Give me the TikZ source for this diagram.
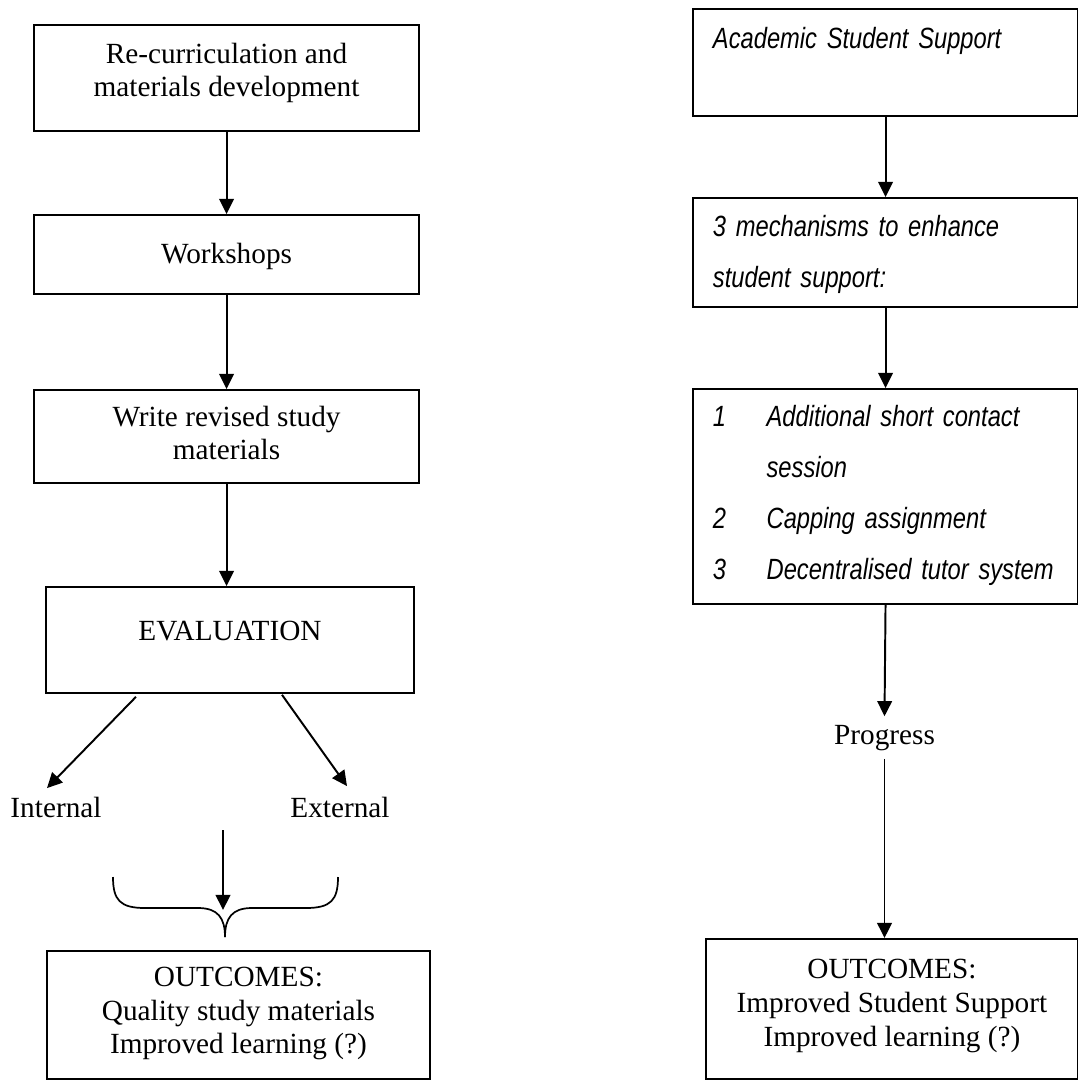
\documentclass[tikz,border=0pt]{standalone}
\usepackage{fontspec}
\setmainfont{Liberation Serif}
\newfontfamily\supportfont{Liberation Sans}[FakeStretch=0.81,WordSpace=0.6]
\usepackage{tikz}
\usetikzlibrary{arrows.meta,positioning,calc}
\newcommand\serifbig{\fontsize{12}{13.8}\selectfont}
\newcommand\sansit{\supportfont\itshape\fontsize{12}{21}\selectfont}
\newcommand\itemno[1]{\makebox[22pt][l]{#1}}

\begin{document}
\begin{tikzpicture}[
  x=0.41pt, y=-0.41pt,
  lbox/.style={
    rectangle, draw=black, line width=0.8pt,
    inner xsep=0pt, inner ysep=0pt, anchor=north west,
    align=center, font=\serifbig
  },
  rbox/.style={
    rectangle, draw=black, line width=0.8pt,
    inner xsep=8.2pt, inner ysep=0pt, anchor=north west,
    text width=141.5pt, align=left, font=\sansit
  },
  plain/.style={font=\serifbig, anchor=base},
  arr/.style={-{Triangle[length=6.2pt,width=6pt]}, line width=0.8pt}
]
\useasboundingbox (0,0) rectangle (1078,1086);

%=== LEFT COLUMN: MATERIALS ===
\node[lbox, minimum width=157.9pt, text height=29.5pt, text depth=13.9pt] (recur) at (33,24)
  {Re-curriculation and\\materials development};
\node[lbox, minimum width=157.9pt, text height=19.7pt, text depth=12.7pt] (work) at (33,214)
  {Workshops};
\node[lbox, minimum width=157.9pt, text height=28.7pt, text depth=9.4pt] (write) at (33,389)
  {Write revised study\\materials};
\node[lbox, minimum width=150.9pt, text height=22.1pt, text depth=21.3pt] (eval) at (45,586)
  {EVALUATION};

\node[plain] (int) at (56,817) {Internal};
\node[plain] (ext) at (340,817) {External};

\node[lbox, minimum width=157pt, text height=42.2pt, text depth=10.3pt] (lout) at (46,950)
  {OUTCOMES:\\Quality study materials\\Improved learning (?)};

%=== LEFT ARROWS ===
\draw[arr] (recur.south) -- (work.north);
\draw[arr] (work.south) -- (write.north);
\draw[arr] (write.south) -- (write.south |- eval.north);
\draw[arr] ($(eval.south)+(-94,3)$) -- ($(int.north)+(-9,0)$);
\draw[arr] ($(eval.south)+(52,1)$) -- ($(ext.north)+(7,-2)$);

%=== MERGE BRACE ===
\coordinate (mtop) at (223,830);
\coordinate (mtip) at (223,910);
\coordinate (brL) at (113,877);
\coordinate (brC) at (225,937);
\coordinate (brR) at (338,877);
\draw[arr] (mtop) -- (mtip);
\draw[line width=0.7pt] (brL) .. controls (113,900) and (120,908) .. (145,908)
  -- (198,908) .. controls (218,908) and (225,918) .. (brC);
\draw[line width=0.7pt] (brC) .. controls (225,918) and (232,908) .. (252,908)
  -- (306,908) .. controls (331,908) and (338,900) .. (brR);

%=== RIGHT COLUMN: STUDENT SUPPORT ===
\node[rbox, text height=16.4pt, text depth=27.5pt] (acad) at (692,8)
  {Academic Student Support};
\node[rbox, text height=15.6pt, text depth=29.1pt] (mech) at (692,197)
  {3 mechanisms to enhance\\student support:};
\node[rbox, text height=15.2pt, text depth=73pt] (list) at (692,388)
  {\itemno{1}Additional short contact\\
   \hspace*{22pt}session\\
   \itemno{2}Capping assignment\\
   \itemno{3}Decentralised tutor system};

\node[plain] (prog) at (884.5,744) {Progress};

\node[lbox, minimum width=152.5pt, text height=43.9pt, text depth=13.5pt] (rout) at (705,938)
  {OUTCOMES:\\Improved Student Support\\Improved learning (?)};

%=== RIGHT ARROWS ===
\draw[arr] (acad.south) -- (mech.north);
\draw[arr] (mech.south) -- (list.north);
\draw[arr] (list.south) -- (prog.north);
\draw[arr] (prog.south) -- (prog.south |- rout.north);

\end{tikzpicture}
\end{document}
